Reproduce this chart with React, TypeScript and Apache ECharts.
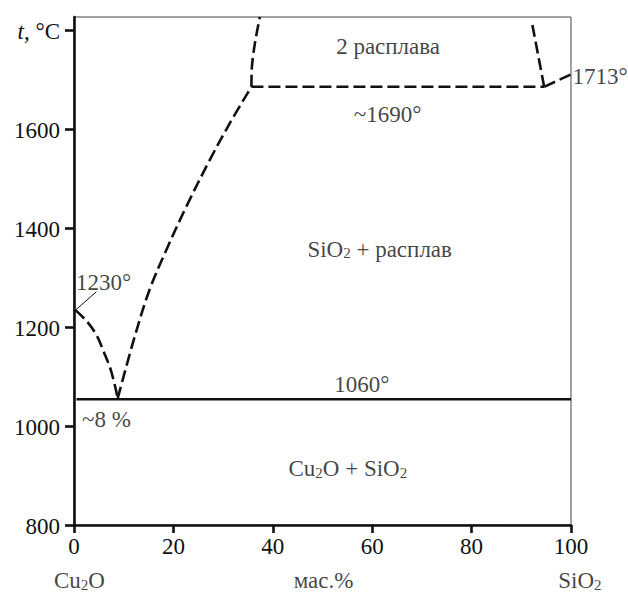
import React, { useEffect, useRef } from 'react';
import * as echarts from 'echarts';

// ---- data ----
const yTickValues = [800, 1000, 1200, 1400, 1600, 1800];
const xTickValues = [0, 20, 40, 60, 80, 100];

// Cu2O liquidus (1230° -> eutectic ~8 %)
const cu2oLiquidusX = [0.3, 2.6, 4.5, 6.1, 7.5, 8.8];
const cu2oLiquidusY = [1234, 1211, 1184, 1147, 1110, 1056];

// SiO2 liquidus (eutectic -> monotectic ~1690°)
const sio2LiquidusX = [8.8, 12.2, 15.2, 18.6, 22.6, 27.3, 31.5, 35.7];
const sio2LiquidusY = [1056, 1180, 1275, 1356, 1443, 1537, 1614, 1685];

// miscibility gap, left branch
const gapLeftX = [35.7, 35.8, 36.4, 37.4];
const gapLeftY = [1685, 1726, 1773, 1826];

// monotectic line ~1690°
const monotecticX = [35.7, 94.6];
const monotecticY = [1685, 1685];

// miscibility gap, right branch
const gapRightX = [94.6, 92.1];
const gapRightY = [1685, 1817];

// SiO2 liquidus near 1713°
const sio2MeltX = [94.6, 100];
const sio2MeltY = [1685, 1710];

// eutectic line 1060°
const eutecticX = [0.5, 100];
const eutecticY = [1054, 1054];

// leader line of the 1230° label
const leaderX = [0.3, 4.5];
const leaderY = [1234, 1271];

// annotations: text, x, y, alignment
const annTexts = [
  '{m|2 расплава}',
  '{m|~1690°}',
  '{m|1713°}',
  '{m|SiO}{s|2}{m| + расплав}',
  '{m|1060°}',
  '{m|Cu}{s|2}{m|O + SiO}{s|2}',
  '{m|1230°}',
  '{m|~8 %}',
  '{m|Cu}{s|2}{m|O}',
  '{m|мас.%}',
  '{m|SiO}{s|2}',
];
const annX = [63.2, 63.1, 100.3, 61.5, 57.9, 55.1, 0.4, 1.6, 1.1, 50.2, 101.8];
const annY = [1770, 1632, 1709, 1360, 1087, 917, 1293, 1016, 690, 690, 690];
const annLeft = [false, false, true, false, false, false, true, true, false, false, false];

const zip = (xs: number[], ys: number[]) => xs.map((x, i) => [x, ys[i]]);

const INK = '#111111';
const FONT = 'Liberation Serif';
const FS = 23;

const rich = {
  m: { fontSize: FS, fontFamily: FONT, color: INK, lineHeight: 26, verticalAlign: 'bottom' },
  s: { fontSize: 15, fontFamily: FONT, color: INK, lineHeight: 8, verticalAlign: 'bottom' },
  i: { fontSize: FS, fontFamily: FONT, color: INK, lineHeight: 26, fontStyle: 'italic', verticalAlign: 'bottom' },
};

export default function App() {
  const ref = useRef<HTMLDivElement>(null);

  useEffect(() => {
    document.body.style.margin = '0';
    if (!ref.current) return;
    const chart = echarts.init(ref.current, undefined, { renderer: 'svg' });

    const dashed = { color: INK, width: 2.6, type: [12, 5] as number[], cap: 'butt' as const };

    const lineSeries = (data: number[][], lineStyle: any, smooth: boolean | number = false) => ({
      type: 'line',
      data,
      showSymbol: false,
      symbol: 'none',
      smooth,
      lineStyle,
      silent: true,
      clip: false,
    });

    const option: any = {
      animation: false,
      textStyle: { fontFamily: FONT, color: INK },
      grid: {
        left: 74,
        right: 57,
        top: 17,
        bottom: 71,
        show: true,
        borderColor: '#444',
        borderWidth: 1,
        backgroundColor: 'transparent',
      },
      xAxis: {
        type: 'value',
        min: 0,
        max: 100,
        interval: 20,
        axisLine: { show: true, lineStyle: { color: INK, width: 2.6 } },
        axisTick: { show: true, inside: false, length: 8, lineStyle: { color: INK, width: 2.6 } },
        axisLabel: {
          margin: 10,
          customValues: xTickValues,
          fontFamily: FONT,
          fontSize: FS,
          color: INK,
        },
        splitLine: { show: false },
      },
      yAxis: {
        type: 'value',
        min: 800,
        max: 1826,
        interval: 200,
        axisLine: { show: true, lineStyle: { color: INK, width: 2.6 } },
        axisTick: {
          show: true,
          inside: false,
          length: 9,
          lineStyle: { color: INK, width: 2.6 },
          customValues: yTickValues,
        },
        axisLabel: {
          margin: 14,
          customValues: yTickValues,
          fontFamily: FONT,
          fontSize: FS,
          color: INK,
          formatter: (v: number) => (v === 1800 ? '{i|t}{m|, °C}' : '{m|' + v + '}'),
          rich,
        },
        splitLine: { show: false },
      },
      series: [
        lineSeries(zip(eutecticX, eutecticY), { color: INK, width: 2.6, type: 'solid' }),
        lineSeries(zip(cu2oLiquidusX, cu2oLiquidusY), dashed, 0.35),
        lineSeries(zip(sio2LiquidusX, sio2LiquidusY), dashed, 0.35),
        lineSeries(zip(gapLeftX, gapLeftY), dashed, 0.3),
        lineSeries(zip(monotecticX, monotecticY), dashed),
        lineSeries(zip(gapRightX, gapRightY), dashed),
        lineSeries(zip(sio2MeltX, sio2MeltY), dashed),
        lineSeries(zip(leaderX, leaderY), { color: INK, width: 1, type: 'solid' }),
        {
          type: 'scatter',
          symbolSize: 0,
          silent: true,
          clip: false,
          data: annTexts.map((t, i) => ({
            value: [annX[i], annY[i]],
            label: annLeft[i]
              ? { show: true, position: 'right', distance: 0, formatter: t, rich }
              : { show: true, position: 'inside', formatter: t, rich },
          })),
          label: { show: true },
        },
      ],
    };

    chart.setOption(option);
    return () => chart.dispose();
  }, []);

  return <div ref={ref} style={{ width: 628, height: 596 }} />;
}
